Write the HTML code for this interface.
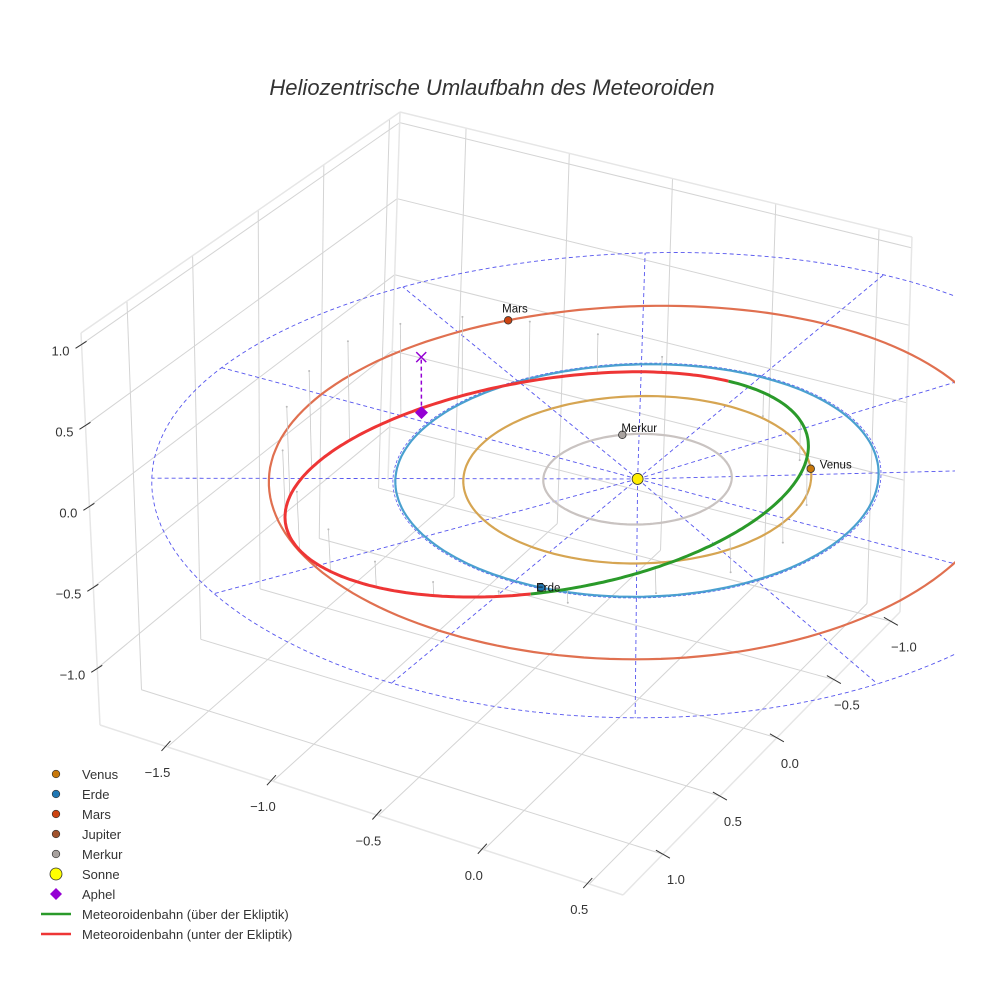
<!DOCTYPE html>
<html><head><meta charset="utf-8"><style>
html,body{margin:0;padding:0;background:#fff;}
svg{display:block;font-family:"Liberation Sans",sans-serif;}
</style></head><body>
<svg id="chart" width="984" height="984" viewBox="0 0 984 984">
<text x="492" y="95" text-anchor="middle" font-size="22" font-style="italic" fill="#333">Heliozentrische Umlaufbahn des Meteoroiden</text>
<defs><clipPath id="sc"><rect x="0" y="0" width="955" height="984"/></clipPath></defs>
<g id="box"></g>
<g id="scene" clip-path="url(#sc)"></g>
<g id="legend"></g>
</svg>
<script>
// axis ranges & ticks
const xTicks=[-1.5,-1.0,-0.5,0.0,0.5];
const yTicks=[-1.0,-0.5,0.0,0.5,1.0];
const zTicks=[-1.0,-0.5,0.0,0.5,1.0];
const XMIN=-1.82,XMAX=0.66,YF=1.35,YB=-1.08,ZMIN=-1.35,ZMAX=1.07;
// planets
const planetNames=["Merkur","Venus","Erde","Mars"];
const orbitRadii=[0.39,0.72,1.0,1.52];
const planetAngles=[230,-35,83,218.5];
const orbitColors=["#c9c3c1","#d6a552","#4aa0d0","#e07050"];
const planetColors=["#a8a29f","#c8780a","#1f77b4","#cc4411"];
// reference grid
const ringRadius=[2.0];
const spokeAngles=[0,30,60,90,120,150,180,210,240,270,300,330];
// meteoroid orbit (center, conjugate half-diameters)
const metCenter=[-0.305,0.215];
const metU=[0.525,-1.048];
const metV=[-0.752,-0.401];
const aboveRange=[-118,22];
// stems (height above/below ecliptic)
const stemAngles=[-110,-90,-70,-50,-30,-10,10,40,55,70,85,100,115,130,145,160,175,190,205,220,235];
const stemHeights=[-0.08,-0.15,-0.22,-0.28,-0.3,-0.25,-0.15,0.1,0.25,0.38,0.5,0.58,0.62,0.6,0.55,0.45,0.35,0.25,0.15,0.08,0.03];
// aphelion
const aphel=[-1.078,-0.065,0.35];

const NS="http://www.w3.org/2000/svg";
const L0=[100,725],F0=[623,895],R0=[900,612],B0=[388,480];
const L1=[81,333],F1=[600,468],R1=[912,237],B1=[400,112];
function lerp(a,b,t){return [a[0]+(b[0]-a[0])*t,a[1]+(b[1]-a[1])*t];}
function P(x,y,z){
  const u=(x-XMIN)/(XMAX-XMIN),v=(YF-y)/(YF-YB),w=(z-ZMIN)/(ZMAX-ZMIN);
  const f0=lerp(lerp(L0,F0,u),lerp(B0,R0,u),v);
  const f1=lerp(lerp(L1,F1,u),lerp(B1,R1,u),v);
  return lerp(f0,f1,w);
}
function mk(tag,attrs,parent){const e=document.createElementNS(NS,tag);for(const k in attrs)e.setAttribute(k,attrs[k]);parent.appendChild(e);return e;}
function line(p,q,st,parent){return mk("line",Object.assign({x1:p[0],y1:p[1],x2:q[0],y2:q[1]},st),parent);}
function poly(pts,st,parent){return mk("polyline",Object.assign({points:pts.map(p=>p[0].toFixed(1)+","+p[1].toFixed(1)).join(" "),fill:"none"},st),parent);}
const box=document.getElementById("box"),scene=document.getElementById("scene"),leg=document.getElementById("legend");
const grid={stroke:"#d4d4d4","stroke-width":1};
xTicks.forEach(t=>{let e=line(P(t,YF,ZMIN),P(t,YB,ZMIN),grid,box);


e=line(P(t,YB,ZMIN),P(t,YB,ZMAX),grid,box);

});
yTicks.forEach(t=>{let e=line(P(XMIN,t,ZMIN),P(XMAX,t,ZMIN),grid,box);


e=line(P(XMIN,t,ZMIN),P(XMIN,t,ZMAX),grid,box);

});
zTicks.forEach(t=>{let e=line(P(XMIN,YF,t),P(XMIN,YB,t),grid,box);


e=line(P(XMIN,YB,t),P(XMAX,YB,t),grid,box);

});
const edge={stroke:"#e6e6e6","stroke-width":1.5};
[[P(XMIN,YF,ZMIN),P(XMAX,YF,ZMIN)],[P(XMAX,YF,ZMIN),P(XMAX,YB,ZMIN)],[P(XMIN,YF,ZMIN),P(XMIN,YF,ZMAX)],[P(XMIN,YF,ZMAX),P(XMIN,YB,ZMAX)],[P(XMIN,YB,ZMAX),P(XMAX,YB,ZMAX)],[P(XMAX,YB,ZMIN),P(XMAX,YB,ZMAX)],[P(XMIN,YB,ZMIN),P(XMIN,YB,ZMAX)]].forEach(s=>{const e=line(s[0],s[1],edge,box);

});
const tk={stroke:"#333","stroke-width":1};
xTicks.forEach(t=>{const p=P(t,YF,ZMIN);line([p[0]-6,p[1]+4],[p[0]+3,p[1]-6],tk,box);
const e=mk("text",{x:p[0]-10,y:p[1]+30,"text-anchor":"middle","font-size":13,fill:"#333"},box);e.textContent=t.toFixed(1).replace("-","\u2212");

});
yTicks.forEach(t=>{const p=P(XMAX,t,ZMIN);line([p[0]-7,p[1]-4],[p[0]+7,p[1]+4],tk,box);
const e=mk("text",{x:p[0]+13,y:p[1]+30,"text-anchor":"middle","font-size":13,fill:"#333"},box);e.textContent=t.toFixed(1).replace("-","\u2212");

});
zTicks.forEach(t=>{const p=P(XMIN,YF,t);line([p[0]-6,p[1]+4],[p[0]+5,p[1]-3],tk,box);
const e=mk("text",{x:p[0]-12,y:p[1]+11,"text-anchor":"end","font-size":13,fill:"#333"},box);e.textContent=t.toFixed(1).replace("-","\u2212");

});
const dash={stroke:"#5555ee","stroke-width":0.9,"stroke-dasharray":"4,3"};
function circ(r,z){const a=[];for(let i=0;i<=180;i++){const t=i*2*Math.PI/180;a.push(P(r*Math.cos(t),r*Math.sin(t),z));}return a;}
ringRadius.forEach(r=>{const e=poly(circ(r,0),dash,scene);

});
spokeAngles.forEach(a=>{const t=a*Math.PI/180;const e=line(P(0,0,0),P(ringRadius[0]*Math.cos(t),ringRadius[0]*Math.sin(t),0),dash,scene);

});
{const e=poly(circ(1.01,0),{stroke:"#5555ee","stroke-width":0.8,"stroke-dasharray":"3,2"},scene);

}
orbitRadii.forEach((r,i)=>{const e=poly(circ(r,0),{stroke:orbitColors[i],"stroke-width":2.2},scene);

});
function met(deg){const t=deg*Math.PI/180;return [metCenter[0]+metU[0]*Math.cos(t)+metV[0]*Math.sin(t),metCenter[1]+metU[1]*Math.cos(t)+metV[1]*Math.sin(t)];}
stemAngles.forEach((a,i)=>{const m=met(a);const p=P(m[0],m[1],0),q=P(m[0],m[1],stemHeights[i]);
const e=line(p,q,{stroke:"#c8c8c8","stroke-width":0.8},scene);


mk("circle",{cx:q[0],cy:q[1],r:1,fill:"#bbb"},scene);});
const above=[],below=[];
for(let d=aboveRange[0];d<=aboveRange[1];d+=1){const m=met(d);above.push(P(m[0],m[1],0));}
for(let d=aboveRange[1];d<=aboveRange[0]+360;d+=1){const m=met(d);below.push(P(m[0],m[1],0));}
{let e=poly(below,{stroke:"#ee3535","stroke-width":3},scene);


e=poly(above,{stroke:"#2a9a2a","stroke-width":3},scene);

}
planetNames.forEach((n,i)=>{const t=planetAngles[i]*Math.PI/180;const p=P(orbitRadii[i]*Math.cos(t),orbitRadii[i]*Math.sin(t),0);
const c=mk("circle",{cx:p[0],cy:p[1],r:3.8,fill:planetColors[i],stroke:"#333","stroke-width":0.8},scene);


const off=n==="Venus"?[9,0,"start"]:n==="Mars"?[-6,-8,"start"]:n==="Merkur"?[-1,-3,"start"]:[-5,4,"start"];
const e=mk("text",{x:p[0]+off[0],y:p[1]+off[1],"font-size":11.5,fill:"#111","text-anchor":off[2]},scene);e.textContent=n;

});
{const p=P(0,0,0);const c=mk("circle",{cx:p[0],cy:p[1],r:5.5,fill:"#ffee00",stroke:"#333","stroke-width":0.8},scene);

}
{const p=P(aphel[0],aphel[1],0),q=P(aphel[0],aphel[1],aphel[2]);
let e=line(p,q,{stroke:"#9400d3","stroke-width":1.5,"stroke-dasharray":"4,3"},scene);


e=mk("path",{d:`M${p[0]},${p[1]-6.5}L${p[0]+6.5},${p[1]}L${p[0]},${p[1]+6.5}L${p[0]-6.5},${p[1]}Z`,fill:"#9400d3"},scene);


e=mk("path",{d:`M${q[0]-5},${q[1]-5}L${q[0]+5},${q[1]+5}M${q[0]+5},${q[1]-5}L${q[0]-5},${q[1]+5}`,stroke:"#9400d3","stroke-width":1.5},scene);

}
const legNames=["Venus","Erde","Mars","Jupiter","Merkur","Sonne","Aphel","Meteoroidenbahn (über der Ekliptik)","Meteoroidenbahn (unter der Ekliptik)"];
const legColors=["#c8780a","#1f77b4","#cc4411","#a0522d","#a8a29f","#ffff00","#9400d3","#2a9a2a","#ee3535"];
legNames.forEach((n,i)=>{const y=774+i*20;let m;
if(i<5)m=mk("circle",{cx:56,cy:y,r:3.8,fill:legColors[i],stroke:"#333","stroke-width":0.7},leg);
else if(i===5)m=mk("circle",{cx:56,cy:y,r:6,fill:legColors[i],stroke:"#333","stroke-width":0.8},leg);
else if(i===6)m=mk("path",{d:`M56,${y-6}L62,${y}L56,${y+6}L50,${y}Z`,fill:legColors[i]},leg);
else m=mk("line",{x1:41,y1:y,x2:71,y2:y,stroke:legColors[i],"stroke-width":2.5},leg);


const t=mk("text",{x:82,y:y+5,"font-size":13,fill:"#333"},leg);t.textContent=n;

});
</script>
</body></html>
